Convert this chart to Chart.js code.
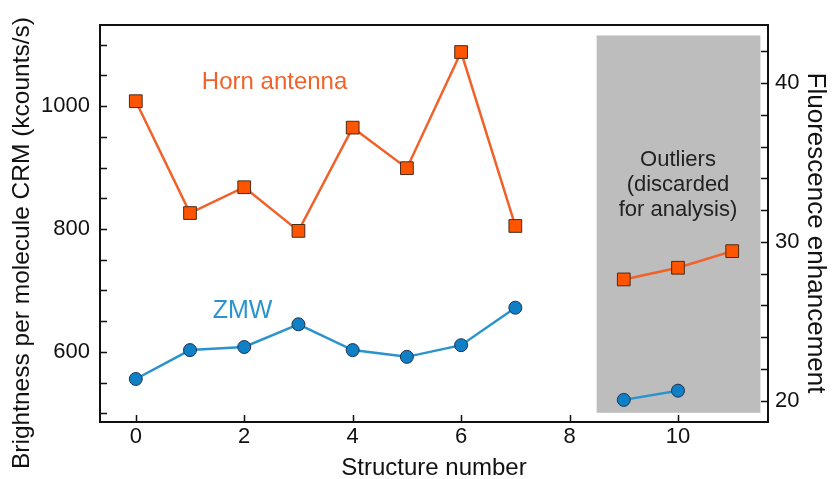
<!DOCTYPE html>
<html>
<head>
<meta charset="utf-8">
<script src="https://cdn.jsdelivr.net/npm/chart.js@4/dist/chart.umd.min.js"></script>
<style>
    body { margin: 0; background: #fff; }
</style>
</head>
<body>
<canvas id="crm_chart" width="834" height="479"></canvas>
<script>
    // data
    var structure = [0, 1, 2, 3, 4, 5, 6, 7, 8, 9, 10, 11];
    var horn = [1008, 826, 868, 797, 965, 899, 1088, 805, null, 718, 737, 764];
    var zmw  = [556, 603, 608, 645, 603, 592, 611, 672, null, 522, 537, null];

    var xTicks = [0, 2, 4, 6, 8, 10];
    var leftTicks = [500, 550, 600, 650, 700, 750, 800, 850, 900, 950, 1000, 1050, 1100];
    var leftLabels = [600, 800, 1000];
    var rightTicks = [20, 22, 24, 26, 28, 30, 32, 34, 36, 38, 40, 42];
    var rightLabels = [20, 30, 40];

    var FONT = "'Liberation Sans', Arial, sans-serif";
    var ORANGE = '#f0622a', BLUE = '#2a93cd';

    function pts(ys) {
        return structure.map(function(x, i) { return {x: x, y: ys[i]}; });
    }

    function setTicks(list) {
        return function(scale) {
            scale.ticks = list.map(function(v) { return {value: v}; });
        };
    }

    // gray "outliers" box, inward ticks, frame and notes
    var extras = {
        id: 'extras',
        beforeDatasetsDraw: function(chart) {
            var c = chart.ctx, x = chart.scales.x, y = chart.scales.y;
            var l = x.getPixelForValue(8.5), r = x.getPixelForValue(11.52);
            var t = y.getPixelForValue(1115), b = y.getPixelForValue(501);
            c.save();
            c.fillStyle = '#bdbdbd';
            c.fillRect(l, t, r - l, b - t);
            c.restore();
        },
        afterDraw: function(chart) {
            var c = chart.ctx, a = chart.chartArea, s = chart.scales;
            c.save();
            c.strokeStyle = '#111';
            c.lineWidth = 2;
            c.strokeRect(a.left, a.top, a.right - a.left, a.bottom - a.top);
            c.lineWidth = 1.5;
            c.beginPath();
            xTicks.forEach(function(v) {
                var px = Math.round(s.x.getPixelForValue(v)) + 0.5;
                c.moveTo(px, a.bottom); c.lineTo(px, a.bottom - 7);
            });
            leftTicks.forEach(function(v) {
                var py = Math.round(s.y.getPixelForValue(v)) + 0.5;
                c.moveTo(a.left, py); c.lineTo(a.left + 7, py);
            });
            rightTicks.forEach(function(v) {
                var py = Math.round(s.y2.getPixelForValue(v)) + 0.5;
                c.moveTo(a.right, py); c.lineTo(a.right - 7, py);
            });
            c.stroke();

            c.textAlign = 'center';
            c.textBaseline = 'middle';
            c.font = '24px ' + FONT;
            c.fillStyle = ORANGE;
            c.fillText('Horn antenna', s.x.getPixelForValue(2.56), s.y.getPixelForValue(1039));
            c.font = '25px ' + FONT;
            c.fillStyle = BLUE;
            c.fillText('ZMW', s.x.getPixelForValue(1.97), s.y.getPixelForValue(667));
            c.font = '22px ' + FONT;
            c.fillStyle = '#222';
            var ox = s.x.getPixelForValue(10), oy = s.y.getPixelForValue(912);
            ['Outliers', '(discarded', 'for analysis)'].forEach(function(line, i) {
                c.fillText(line, ox, oy + i * 25);
            });

            // axis titles sit a bit lower than the plot centre
            c.fillStyle = '#111';
            c.save();
            c.font = '24.5px ' + FONT;
            c.translate(22, 243);
            c.rotate(-Math.PI / 2);
            c.fillText('Brightness per molecule CRM (kcounts/s)', 0, 0);
            c.restore();
            c.font = '26px ' + FONT;
            c.translate(815, 233);
            c.rotate(Math.PI / 2);
            c.fillText('Fluorescence enhancement', 0, 0);
            c.restore();
        }
    };

    var ctx = document.getElementById("crm_chart").getContext("2d");
    new Chart(ctx, {
        type: 'line',
        data: {
            datasets: [
                {
                    label: 'Horn antenna',
                    data: pts(horn),
                    borderColor: ORANGE,
                    borderWidth: 2.5,
                    backgroundColor: '#ff5400',
                    pointStyle: 'rect',
                    pointRadius: 9,
                    pointBorderColor: '#4a2a1a',
                    pointBorderWidth: 1,
                    spanGaps: false
                },
                {
                    label: 'ZMW',
                    data: pts(zmw),
                    borderColor: BLUE,
                    borderWidth: 2.5,
                    backgroundColor: '#0f7fc6',
                    pointStyle: 'circle',
                    pointRadius: 6.5,
                    pointBorderColor: '#1d3550',
                    pointBorderWidth: 1,
                    spanGaps: false
                }
            ]
        },
        options: {
            responsive: false,
            devicePixelRatio: 1,
            animation: false,
            layout: {padding: {top: 25, left: 0, right: 0, bottom: 0}},
            plugins: {legend: {display: false}, tooltip: {enabled: false}},
            scales: {
                x: {
                    type: 'linear',
                    min: -0.66, max: 11.66,
                    afterBuildTicks: setTicks(xTicks),
                    afterFit: function(scale) { scale.height = 57; },
                    grid: {drawOnChartArea: false, drawTicks: false},
                    border: {display: false},
                    ticks: {color: '#111', font: {family: FONT, size: 22}, padding: 2, maxRotation: 0},
                    title: {display: true, text: 'Structure number', color: '#111',
                            font: {family: FONT, size: 24}, padding: {top: 0, bottom: -4}}
                },
                y: {
                    position: 'left',
                    min: 486, max: 1132,
                    afterBuildTicks: setTicks(leftTicks),
                    afterFit: function(scale) { scale.width = 100; },
                    grid: {drawOnChartArea: false, drawTicks: false},
                    border: {display: false},
                    ticks: {
                        color: '#111', font: {family: FONT, size: 22}, padding: 10,
                        callback: function(v) { return leftLabels.indexOf(v) >= 0 ? v : ''; }
                    }
                },
                y2: {
                    position: 'right',
                    min: 18.66, max: 43.66,
                    afterBuildTicks: setTicks(rightTicks),
                    afterFit: function(scale) { scale.width = 66; },
                    grid: {drawOnChartArea: false, drawTicks: false},
                    border: {display: false},
                    ticks: {
                        color: '#111', font: {family: FONT, size: 22}, padding: 7,
                        callback: function(v) { return rightLabels.indexOf(v) >= 0 ? v : ''; }
                    }
                }
            }
        },
        plugins: [extras]
    });
</script>
</body>
</html>
